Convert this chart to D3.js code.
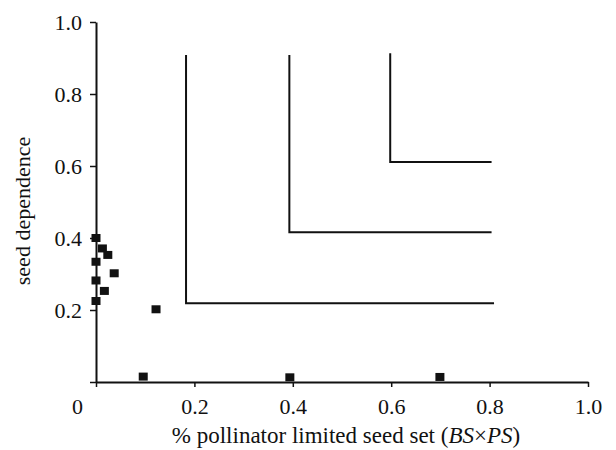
<!DOCTYPE html>
<html>
<head>
<meta charset="utf-8">
<script src="https://cdnjs.cloudflare.com/ajax/libs/d3/7.8.5/d3.min.js"></script>
<style>
  body { margin: 0; background: #fff; }
  text { font-family: "Liberation Serif", "Times New Roman", serif; fill: #111; }
</style>
</head>
<body>
<div id="chart-area"></div>
<script>

// pollinator limited seed set (x) vs seed dependence (y)
var pollLimited = [0, 0.013, 0.024, 0, 0.037, 0, 0.017, 0, 0.122, 0.096, 0.394, 0.699];
var seedDep = [0.40, 0.371, 0.353, 0.334, 0.302, 0.282, 0.253, 0.225, 0.202, 0.015, 0.013, 0.014];

// L-shaped threshold lines: corner x, corner y, top y, right end x
var cornerX = [0.183, 0.393, 0.598];
var cornerY = [0.219, 0.416, 0.611];
var topY = [0.908, 0.908, 0.913];
var rightX = [0.809, 0.804, 0.804];

var xTicks = [0, 0.2, 0.4, 0.6, 0.8, 1.0];
var yTicks = [0.2, 0.4, 0.6, 0.8, 1.0];

var margin = {left: 96, right: 28, top: 22, bottom: 68};
var width = 616 - margin.left - margin.right;
var height = 450 - margin.top - margin.bottom;

var svg = d3.select("#chart-area")
    .append("svg")
    .attr("width", 616)
    .attr("height", 450);

var g = svg.append("g")
    .attr("transform", "translate(" + margin.left + "," + margin.top + ")");

var x = d3.scaleLinear().domain([0, 1]).range([0, width]);
var y = d3.scaleLinear().domain([0, 1]).range([height, 0]);

var xAxisCall = d3.axisBottom(x)
    .tickValues(xTicks)
    .tickSizeInner(5)
    .tickSizeOuter(0)
    .tickFormat(function(d){
        return d == 0 ? "0" : d3.format(".1f")(d);
    });
var xAxis = g.append("g")
    .attr("class", "x axis")
    .attr("transform", "translate(0," + height + ")")
    .call(xAxisCall);
xAxis.selectAll("text")
    .attr("font-size", "22px")
    .attr("y", 16)
    .attr("dy", "0.71em")
    .attr("dx", function(d){ return d == 0 ? -19 : 0; });

var yAxisCall = d3.axisLeft(y)
    .tickValues([0].concat(yTicks))
    .tickSizeInner(6)
    .tickSizeOuter(0)
    .tickFormat(function(d){
        return d == 0 ? "" : d3.format(".1f")(d);
    });
var yAxis = g.append("g")
    .attr("class", "y axis")
    .call(yAxisCall);
yAxis.selectAll("text")
    .attr("font-size", "22px")
    .attr("x", -14);

g.selectAll(".axis path, .axis line")
    .attr("stroke", "#111")
    .attr("stroke-width", 2);
g.selectAll(".axis .tick line").attr("stroke-width", 1.5);
g.selectAll(".axis text").attr("fill", "#111");

// L-shaped lines
var lData = cornerX.map(function(cx, i){
    return [[cx, topY[i]], [cx, cornerY[i]], [rightX[i], cornerY[i]]];
});
var line = d3.line()
    .x(function(d){ return x(d[0]); })
    .y(function(d){ return y(d[1]); });
g.selectAll("path.lshape")
    .data(lData)
    .enter()
    .append("path")
    .attr("class", "lshape")
    .attr("d", line)
    .attr("fill", "none")
    .attr("stroke", "#111")
    .attr("stroke-width", 2);

// squares
var pts = pollLimited.map(function(v, i){ return {x: v, y: seedDep[i]}; });
var sq = 9;
g.selectAll("rect.pt")
    .data(pts)
    .enter()
    .append("rect")
    .attr("class", "pt")
    .attr("x", function(d){ return x(d.x) - sq / 2; })
    .attr("y", function(d){ return y(d.y) - 4; })
    .attr("width", sq)
    .attr("height", 8)
    .attr("fill", "#111");

// axis labels
var xLab = svg.append("text")
    .attr("x", 346)
    .attr("y", 443)
    .attr("font-size", "23px")
    .attr("text-anchor", "middle");
xLab.append("tspan").text("% pollinator limited seed set (");
xLab.append("tspan").attr("font-style", "italic").text("BS");
xLab.append("tspan").text("\u00d7");
xLab.append("tspan").attr("font-style", "italic").text("PS");
xLab.append("tspan").text(")");

svg.append("text")
    .attr("transform", "translate(30,211) rotate(-90)")
    .attr("font-size", "22px")
    .attr("text-anchor", "middle")
    .text("seed dependence");

</script>
</body>
</html>
